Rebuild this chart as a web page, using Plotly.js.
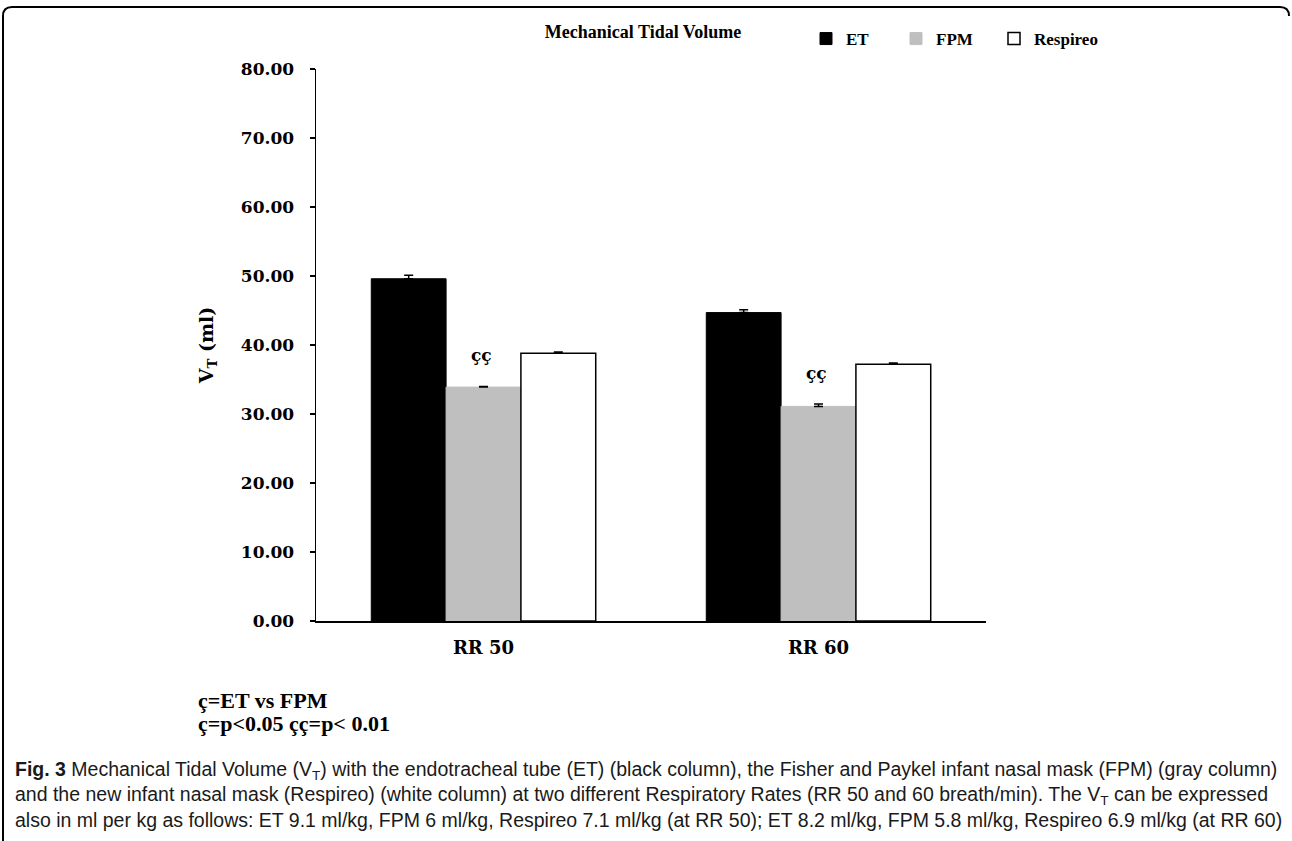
<!DOCTYPE html>
<html>
<head>
<meta charset="utf-8">
<script src="https://cdn.plot.ly/plotly-3.0.1.min.js"></script>
<style>
html,body{margin:0;padding:0;background:#fff;}
#chart{width:1292px;height:841px;}
</style>
</head>
<body>
<div id="chart"></div>
<script>
// ---- data ----
const categories = ['RR 50', 'RR 60'];
const seriesNames = ['ET', 'FPM', 'Respireo'];
const etValues = [49.6, 44.7];
const etErrors = [0.5, 0.4];
const fpmValues = [33.9, 31.1];
const fpmErrors = [0.1, 0.35];
const respValues = [38.8, 37.2];
const respErrors = [0.2, 0.2];
const sigMarks = ['çç', 'çç'];
const yTickValues = [0, 10, 20, 30, 40, 50, 60, 70, 80];
const chartTitle = 'Mechanical Tidal Volume';
const yTitle = 'V<sub>T</sub> (ml)';
const footnotes = ['ç=ET vs FPM', 'ç=p&lt;0.05 çç=p&lt; 0.01'];
const captionLines = [
  '<b>Fig. 3</b> Mechanical Tidal Volume (V<sub>T</sub>) with the endotracheal tube (ET) (black column), the Fisher and Paykel infant nasal mask (FPM) (gray column)',
  'and the new infant nasal mask (Respireo) (white column) at two different Respiratory Rates (RR 50 and 60 breath/min). The V<sub>T</sub> can be expressed',
  'also in ml per kg as follows: ET 9.1 ml/kg, FPM 6 ml/kg, Respireo 7.1 ml/kg (at RR 50); ET 8.2 ml/kg, FPM 5.8 ml/kg, Respireo 6.9 ml/kg (at RR 60)'
];

// ---- layout constants ----
const W = 1292, H = 841;
const M = {l: 316, r: 306, t: 69, b: 220};
const PW = W - M.l - M.r, PH = H - M.t - M.b;
const px2x = p => (p - M.l) / PW;
const py2y = p => (H - M.b - p) / PH;

const serif = 'Liberation Serif, Times New Roman, serif';
const wide = 'DejaVu Serif, serif';
const capFont = 'Liberation Sans, Arial, sans-serif';

function errCfg(arr) {
  return {type: 'data', symmetric: false, array: arr, arrayminus: arr.map(() => 0),
          color: '#000', thickness: 1.5, width: 4.5};
}

const traces = [
  {type: 'bar', name: seriesNames[0], x: categories, y: etValues, legend: 'legend',
   marker: {color: '#000000', line: {color: '#000', width: 1}}, error_y: errCfg(etErrors)},
  {type: 'bar', name: seriesNames[1], x: categories, y: fpmValues, legend: 'legend2',
   marker: {color: '#bfbfbf', line: {color: '#bfbfbf', width: 1}}, error_y: errCfg(fpmErrors)},
  {type: 'bar', name: seriesNames[2], x: categories, y: respValues, legend: 'legend3',
   marker: {color: '#ffffff', line: {color: '#000', width: 1.5}}, error_y: errCfg(respErrors)}
];

const annotations = [];
categories.forEach((c, i) => {
  annotations.push({xref: 'x', yref: 'y', x: c, y: fpmValues[i] + fpmErrors[i],
    text: '<b>' + sigMarks[i] + '</b>', showarrow: false, yanchor: 'middle', yshift: 31,
    font: {family: wide, size: 17, color: '#000'}, xshift: -2});
});
footnotes.forEach((t, i) => {
  annotations.push({xref: 'paper', yref: 'paper', x: px2x(196), y: py2y(700 + i * 23),
    xanchor: 'left', yanchor: 'middle', text: '<b>' + t + '</b>', showarrow: false,
    font: {family: serif, size: 22, color: '#000'}});
});
captionLines.forEach((t, i) => {
  annotations.push({xref: 'paper', yref: 'paper', x: px2x(13), y: py2y(770 + i * 25),
    xanchor: 'left', yanchor: 'middle', text: t, showarrow: false, align: 'left',
    font: {family: capFont, size: 19.5, color: '#1a1a1a'}});
});

// frame: left + top with rounded corners
const fx0 = px2x(3), fx1 = px2x(1289), fy0 = py2y(841), fy1 = py2y(7);
const rx = 9 / PW, ry = 9 / PH;
const framePath = `M ${fx0},${fy0} L ${fx0},${fy1 - ry} Q ${fx0},${fy1} ${fx0 + rx},${fy1} ` +
                  `L ${fx1 - rx},${fy1} Q ${fx1},${fy1} ${fx1},${fy1 - ry}`;

function legendAt(pxLeft) {
  return {orientation: 'h', xref: 'paper', yref: 'paper', x: px2x(pxLeft), y: py2y(21),
          xanchor: 'left', yanchor: 'top',
          font: {family: serif, size: 17, color: '#000', weight: 'bold'},
          bgcolor: 'rgba(0,0,0,0)'};
}

const layout = {
  width: W, height: H,
  margin: M,
  paper_bgcolor: '#fff', plot_bgcolor: '#fff',
  barmode: 'group', bargap: 0.33, bargroupgap: 0,
  font: {family: serif, color: '#000'},
  title: {text: '<b>' + chartTitle + '</b>', xref: 'paper', x: px2x(643), xanchor: 'center',
          yref: 'container', y: 1 - 32 / H, yanchor: 'middle',
          font: {family: serif, size: 18, color: '#000'}},
  showlegend: true,
  legend: legendAt(806),
  legend2: legendAt(896),
  legend3: legendAt(994),
  xaxis: {type: 'category', showline: true, linecolor: '#000', linewidth: 1.5, ticks: '',
          showgrid: false, zeroline: false, ticklabelstandoff: 10,
          tickfont: {family: wide, size: 18, color: '#000', weight: 'bold'}},
  yaxis: {range: [0, 80], tickvals: yTickValues, tickformat: '.2f', showline: true,
          linecolor: '#000', linewidth: 1.5, ticks: 'outside', ticklen: 5, tickwidth: 1.5,
          tickcolor: '#000', showgrid: false, zeroline: false, ticklabelstandoff: 12,
          tickfont: {family: wide, size: 17, color: '#000', weight: 'bold'},
          title: {text: '<b>' + yTitle + '</b>', standoff: 22,
                  font: {family: wide, size: 19, color: '#000'}}},
  annotations: annotations,
  shapes: [{type: 'path', xref: 'paper', yref: 'paper', path: framePath,
            line: {color: '#000', width: 2}}]
};

Plotly.newPlot('chart', traces, layout, {displayModeBar: false, staticPlot: true});
</script>
</body>
</html>
